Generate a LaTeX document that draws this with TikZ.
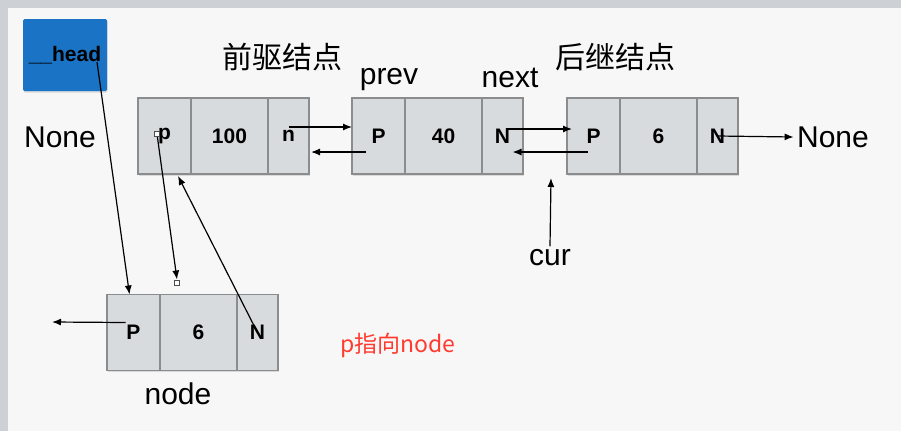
\documentclass[tikz,border=0pt]{standalone}
\usepackage{fontspec}
\setmainfont{Liberation Sans}
\newfontfamily\cjk{Noto Sans CJK SC}
\usetikzlibrary{arrows.meta, positioning, shadows}
\definecolor{PageBg}{RGB}{247, 247, 247}
\definecolor{FrameGray}{RGB}{205, 209, 213}
\definecolor{CellFill}{RGB}{216, 219, 222}
\definecolor{CellLine}{RGB}{138, 140, 142}
\definecolor{HeadBlue}{RGB}{26, 115, 196}
\definecolor{NoteRed}{RGB}{255, 59, 48}

\begin{document}
\begin{tikzpicture}[
    x=1pt, y=-1pt,
    every node/.style={align=center},
    cell/.style={rectangle, draw=CellLine, fill=CellFill, line width=1.2pt, outer sep=0pt, minimum height=76pt, inner sep=0pt, font=\fontsize{21}{24}\selectfont\bfseries,
      drop shadow={shadow xshift=0.6pt, shadow yshift=-1.6pt, opacity=0.25}},
    ptr/.style={cell, minimum width=53pt},
    val/.style={cell, minimum width=77pt},
    nxt/.style={cell, minimum width=41pt},
    label/.style={font=\fontsize{30}{34}\selectfont},
    cnlabel/.style={font=\cjk\fontsize{30}{34}\selectfont},
    handle/.style={rectangle, draw=black!70, fill=white, line width=0.6pt, minimum size=5pt, inner sep=0pt},
    arrow/.style={-{Latex[length=9pt, width=7pt]}, draw=black, line width=1.2pt}
  ]
    % Page
    \fill[FrameGray] (0,0) rectangle (901,431);
    \fill[PageBg] (8,8) rectangle (901,431);
    \useasboundingbox (0,0) rectangle (901,431);

    % Head pointer
    \node[rectangle, fill=HeadBlue, minimum width=84pt, minimum height=72pt, rounded corners=1.5pt,
      drop shadow={shadow xshift=0.6pt, shadow yshift=-1.6pt, opacity=0.25},
      font=\fontsize{21}{24}\selectfont\bfseries] (head) at (65,55) {\_\_head};

    % Predecessor node
    \node[ptr] (n1p) at (164.5,136) {p};
    \node[val, right=0pt of n1p] (n1v) {100};
    \node[nxt, right=0pt of n1v] (n1n) {n};

    % prev node
    \node[ptr] (n2p) at (378.5,136) {P};
    \node[val, right=0pt of n2p] (n2v) {40};
    \node[nxt, right=0pt of n2v] (n2n) {N};

    % Successor node
    \node[ptr] (n3p) at (593.5,136) {P};
    \node[val, right=0pt of n3p] (n3v) {6};
    \node[nxt, right=0pt of n3v] (n3n) {N};

    % New node
    \node[ptr] (bp) at (133.5,332.5) {P};
    \node[val, right=0pt of bp] (bv) {6};
    \node[nxt, right=0pt of bv] (bn) {N};

    % Labels
    \node[cnlabel] (pre) at (282,57) {前驱结点};
    \node[cnlabel] (suc) at (615,57) {后继结点};
    \node[label] (prev) at (389,80) {prev};
    \node[label] (next) at (510,78) {next};
    \node[label] (noneL) at (60,137) {None};
    \node[label] (noneR) at (833,137) {None};
    \node[label] (cur) at (550,258) {cur};
    \node[label] (nodelbl) at (178,394) {node};
    \node[font=\cjk\fontsize{23}{27}\selectfont, text=NoteRed] (note) at (398,345) {p指向node};
    \coordinate (gap) at (551,178);
    \coordinate (leftend) at (52,322);

    % Connections
    \draw[arrow] ([yshift=9pt]n1n.center) -- ([yshift=9pt]n2p.west);
    \draw[arrow] ([xshift=-13pt,yshift=-16pt]n2p.center) -- ([xshift=2pt,yshift=-16pt]n1n.east);
    \draw[arrow] ([xshift=3pt,yshift=7pt]n2n.center) -- ([xshift=5pt,yshift=7pt]n3p.west);
    \draw[arrow] ([xshift=-6pt,yshift=-16pt]n3p.center) -- ([xshift=10pt,yshift=-16pt]n2n.center);
    \draw[arrow] (n3n.center) -- (noneR.west);
    \draw[arrow] (cur.north) -- (gap);
    \draw[arrow] ([xshift=32pt,yshift=-7pt]head.center) -- ([xshift=-4pt]bp.north);
    \draw[arrow] ([xshift=-7.5pt,yshift=2pt]n1p.center) -- ([xshift=17pt,yshift=15pt]bv.north west);
    \draw[arrow] (bn.center) -- ([xshift=-13pt,yshift=-2pt]n1p.south east);
    \draw[arrow] ([xshift=-8pt,yshift=10pt]bp.center) -- (leftend);

    % Selection handles
    \node[handle] (h1) at (157,134) {};
    \node[handle] (h2) at (177,283) {};
  \end{tikzpicture}
\end{document}
